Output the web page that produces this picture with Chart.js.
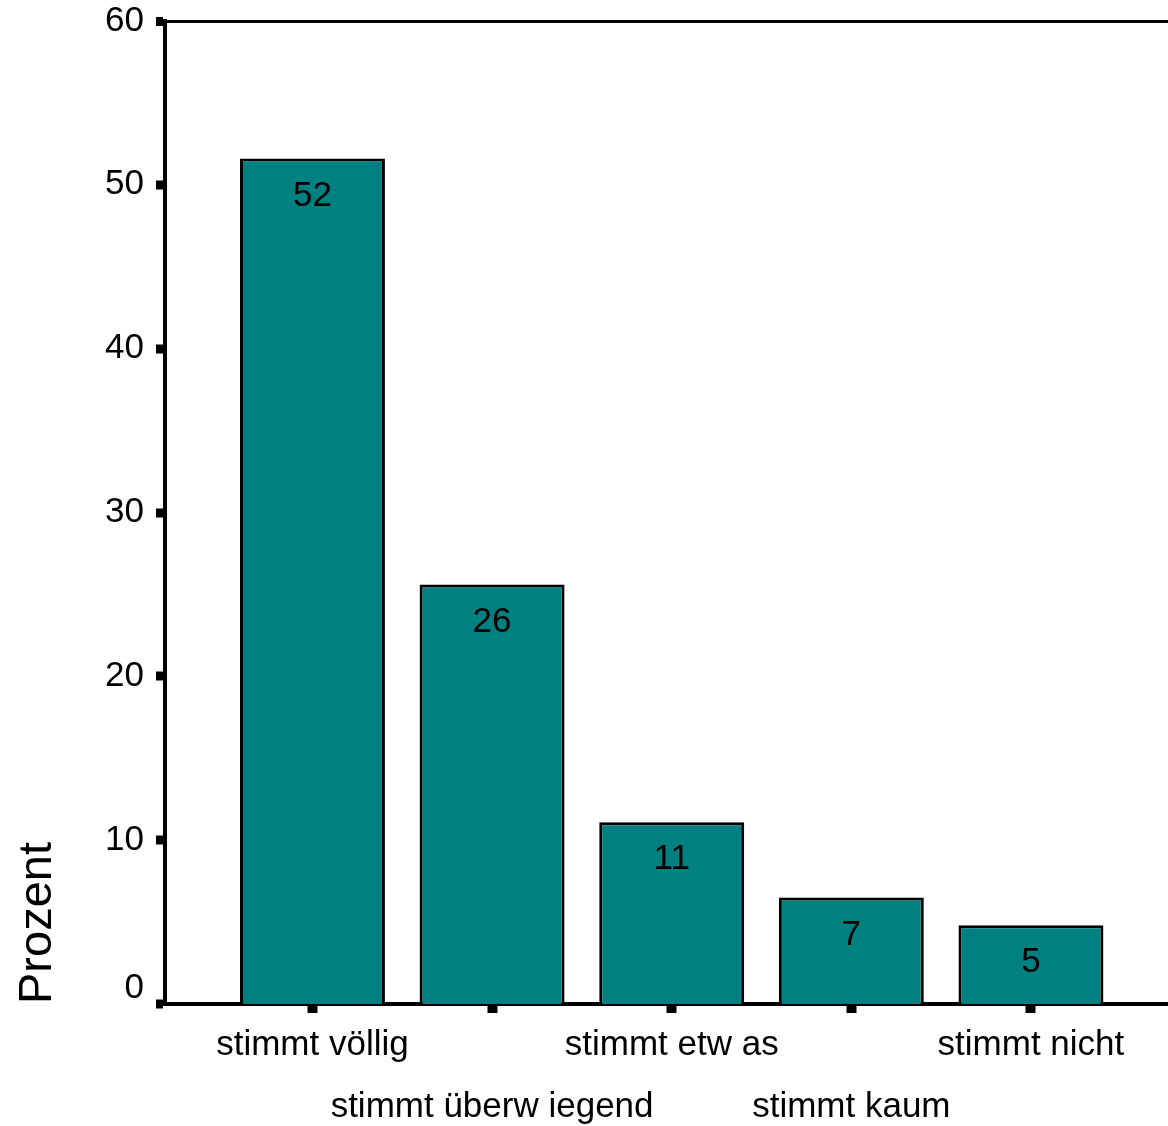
<!DOCTYPE html>
<html><head><meta charset="utf-8">
<script src="https://cdn.jsdelivr.net/npm/chart.js@4"></script>
<style>html,body{margin:0;padding:0;background:#fff;overflow:hidden}</style>
</head><body>
<canvas id="c" width="1168" height="1126"></canvas>
<script>
const categories = ['stimmt völlig', 'stimmt überw iegend', 'stimmt etw as', 'stimmt kaum', 'stimmt nicht'];
const percentValues = [51.6, 25.6, 11.1, 6.5, 4.8];
const valueLabels = ['52', '26', '11', '7', '5'];
const yTickValues = [0, 10, 20, 30, 40, 50, 60];
const yAxisTitle = 'Prozent';

const FONT = "'Liberation Sans', Arial, Helvetica, sans-serif";

const bgPlugin = {
  id: 'bg',
  beforeDraw(chart) {
    const c = chart.ctx;
    c.save(); c.fillStyle = '#fff'; c.fillRect(0, 0, chart.width, chart.height); c.restore();
  }
};
const valueLabelPlugin = {
  id: 'valueLabels',
  afterDatasetsDraw(chart) {
    const c = chart.ctx;
    const meta = chart.getDatasetMeta(0);
    c.save();
    c.fillStyle = '#000';
    c.font = '35px ' + FONT;
    c.textAlign = 'center';
    c.textBaseline = 'alphabetic';
    meta.data.forEach((bar, i) => {
      c.fillText(valueLabels[i], bar.x, bar.y + 47);
    });
    c.restore();
  }
};

new Chart(document.getElementById('c'), {
  type: 'bar',
  data: {
    datasets: [{
      data: percentValues.map((v, i) => ({ x: i, y: v })),
      backgroundColor: '#008080',
      borderColor: '#000',
      borderWidth: 3,
      barPercentage: 1,
      categoryPercentage: 0.807
    }]
  },
  options: {
    responsive: false,
    animation: false,
    devicePixelRatio: 1,
    layout: { padding: { top: 21, right: 0, left: 0, bottom: 0 }, autoPadding: false },
    plugins: { legend: { display: false }, tooltip: { enabled: false } },
    scales: {
      x: {
        type: 'linear',
        offset: false,
        min: -0.821,
        max: 4.763,
        afterBuildTicks: s => { s.ticks = categories.map((_, i) => ({ value: i })); },
        afterFit: s => { s.height = 122; s.paddingLeft = 0; s.paddingRight = 0; s.paddingTop = 0; s.paddingBottom = 0; },
        border: { display: true, color: '#000', width: 4 },
        grid: { offset: false, drawOnChartArea: false, color: '#000', tickColor: '#000', tickLength: 9, tickWidth: 10 },
        ticks: {
          autoSkip: false, maxRotation: 0, minRotation: 0, padding: 1, color: '#000',
          font: { family: FONT, size: 35, lineHeight: 1.77 },
          callback: v => (v % 2 === 0) ? [categories[v]] : ['', categories[v]]
        }
      },
      y: {
        min: 0,
        max: 60,
        afterBuildTicks: s => { s.ticks = yTickValues.map(v => ({ value: v })); },
        afterFit: s => { s.width = 165; s.paddingTop = 0; s.paddingBottom = 0; s.paddingLeft = 0; s.paddingRight = 0; },
        border: { display: true, color: '#000', width: 4 },
        grid: {
          drawOnChartArea: true,
          color: ctx => (ctx.tick && ctx.tick.value === 60) ? '#000' : 'rgba(0,0,0,0)',
          lineWidth: ctx => (ctx.tick && ctx.tick.value === 60) ? 3 : 0,
          tickColor: '#000', tickLength: 9, tickWidth: 9
        },
        ticks: {
          padding: 12, color: '#000',
          font: { family: FONT, size: 35, lineHeight: 0.92 },
          callback: v => v === 0 ? [String(v), ''] : String(v)
        },
        title: {
          display: true, text: yAxisTitle, align: 'start', color: '#000',
          font: { family: FONT, size: 47 },
          padding: { top: 10, bottom: 0 }
        }
      }
    }
  },
  plugins: [bgPlugin, valueLabelPlugin]
});
</script>
</body></html>
